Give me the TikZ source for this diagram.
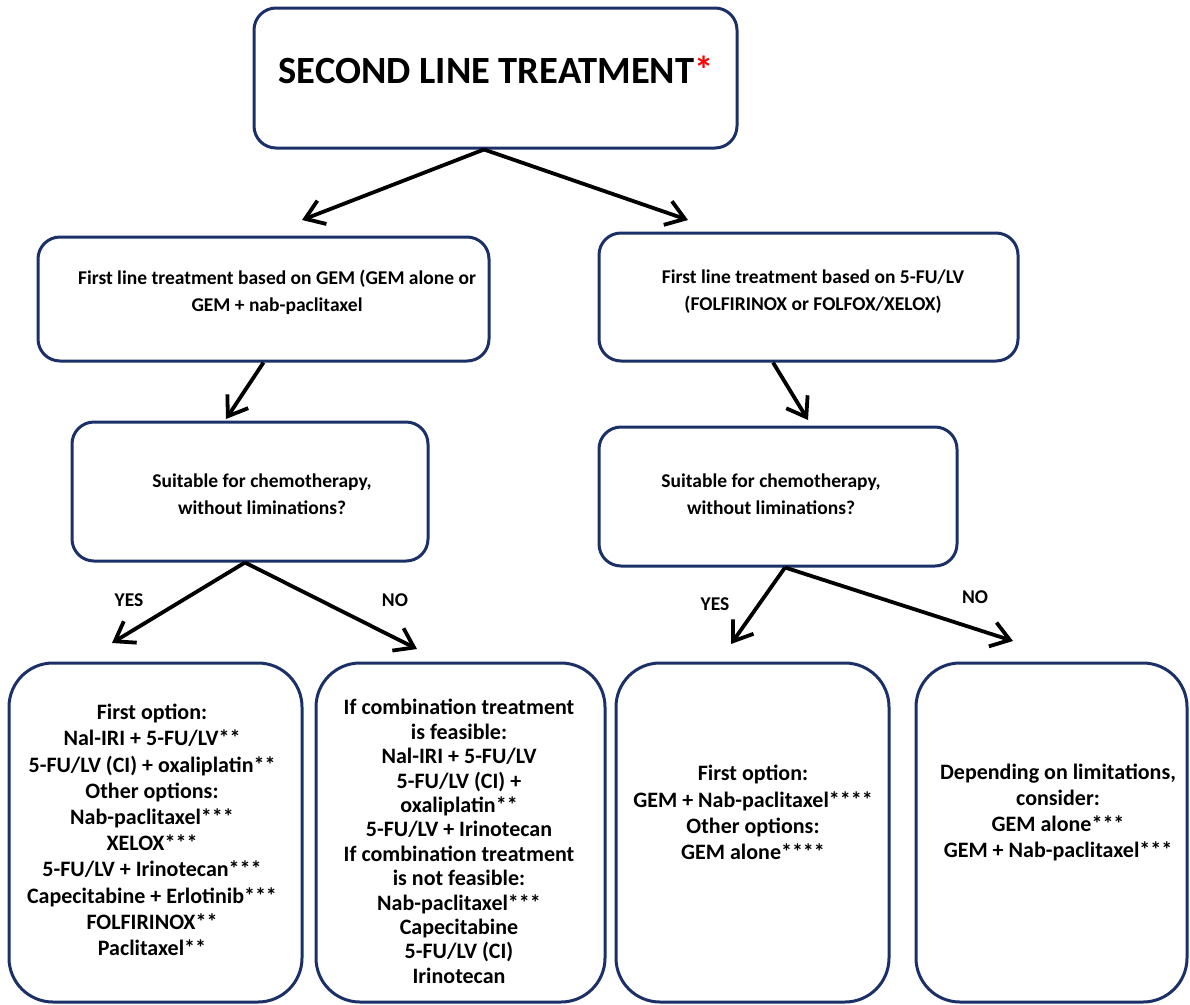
\documentclass[tikz,border=0pt]{standalone}
\usepackage{fontspec}
\setmainfont{Carlito}
\usetikzlibrary{arrows.meta}
\definecolor{boxnavy}{RGB}{28,48,104}
\definecolor{astred}{RGB}{255,0,0}
\begin{document}
\begin{tikzpicture}[x=1pt,y=-1pt,
  box/.style={draw=boxnavy, line width=3pt, rounded corners=22pt, inner sep=0pt, rectangle},
  tallbox/.style={box, rounded corners=44pt},
  arr/.style={draw=black, line width=3.8pt, -{Straight Barb[length=18pt,width=25pt]}},
  titletext/.style={font=\fontsize{38.5}{44}\selectfont\bfseries, inner sep=0pt},
  midtext/.style={font=\fontsize{19.5}{27}\selectfont\bfseries, align=center, inner sep=0pt},
  lowtext/.style={font=\fontsize{22}{26.2}\selectfont\bfseries, align=center, inner sep=0pt},
  lowtextB/.style={font=\fontsize{22}{24.4}\selectfont\bfseries, align=center, inner sep=0pt},
  yesno/.style={font=\fontsize{19.5}{21}\selectfont\bfseries, inner sep=0pt}
]
\useasboundingbox (0,0) rectangle (1190,1004);

% boxes
\node[box, minimum width=483pt, minimum height=140pt] (title) at (495.5,78) {};
\node[box, minimum width=451pt, minimum height=124pt] (gem) at (263.5,299) {};
\node[box, minimum width=419pt, minimum height=128pt] (fu) at (808.5,297) {};
\node[box, minimum width=356pt, minimum height=139pt] (suitL) at (250,491.5) {};
\node[box, minimum width=358pt, minimum height=139pt] (suitR) at (778,496.5) {};
\node[tallbox, minimum width=293pt, minimum height=339pt] (bA) at (155.5,832.5) {};
\node[tallbox, minimum width=289pt, minimum height=339pt] (bB) at (460.5,832.5) {};
\node[tallbox, minimum width=273pt, minimum height=339pt] (bC) at (752.5,832.5) {};
\node[tallbox, minimum width=271pt, minimum height=339pt] (bD) at (1051.5,832.5) {};

% texts
\node[titletext, anchor=base] (titletxt) at (496,83) {SECOND LINE TREATMENT\textcolor{astred}{*}};
\node[midtext] (gemtxt) at (277,292.5) {First line treatment based on GEM (GEM alone or\\GEM + nab-paclitaxel};
\node[midtext] (futxt) at (813,292) {First line treatment based on 5-FU/LV\\(FOLFIRINOX or FOLFOX/XELOX)};
\node[midtext] (suitLtxt) at (262,494.5) {Suitable for chemotherapy,\\without liminations?};
\node[midtext] (suitRtxt) at (771,494) {Suitable for chemotherapy,\\without liminations?};
\node[lowtext] (bAtxt) at (152,830) {First option:\\Nal-IRI + 5-FU/LV**\\5-FU/LV (CI) + oxaliplatin**\\Other options:\\Nab-paclitaxel***\\XELOX***\\5-FU/LV + Irinotecan***\\Capecitabine + Erlotinib***\\FOLFIRINOX**\\Paclitaxel**};
\node[lowtextB] (bBtxt) at (459,841.5) {If combination treatment\\is feasible:\\Nal-IRI + 5-FU/LV\\5-FU/LV (CI) +\\oxaliplatin**\\5-FU/LV + Irinotecan\\If combination treatment\\is not feasible:\\Nab-paclitaxel***\\Capecitabine\\5-FU/LV (CI)\\Irinotecan};
\node[lowtext] (bCtxt) at (753,812.5) {First option:\\GEM + Nab-paclitaxel****\\Other options:\\GEM alone****};
\node[lowtext] (bDtxt) at (1058,812.5) {Depending on limitations,\\consider:\\GEM alone***\\GEM + Nab-paclitaxel***};

% labels
\node[yesno] (yesL) at (129,600) {YES};
\node[yesno] (noL) at (395,600) {NO};
\node[yesno] (yesR) at (715,604) {YES};
\node[yesno] (noR) at (975,597) {NO};

% arrow end points
\coordinate (tA) at (302,220);
\coordinate (tB) at (688,220);
\coordinate (gA) at (226,419);
\coordinate (fA) at (808,420);
\coordinate (lY) at (112,643);
\coordinate (lN) at (417,649);
\coordinate (rY) at (731,644);
\coordinate (rN) at (1013,641);

% connectors
\draw[arr] ([xshift=-11.5pt]title.south) -- (tA);
\draw[arr] ([xshift=-11.5pt]title.south) -- (tB);
\draw[arr] (gem.south) -- (gA);
\draw[arr] ([xshift=-35.5pt]fu.south) -- (fA);
\draw[arr] ([xshift=-5pt]suitL.south) -- (lY);
\draw[arr] ([xshift=-5pt]suitL.south) -- (lN);
\draw[arr] ([xshift=7pt]suitR.south) -- (rY);
\draw[arr] ([xshift=7pt]suitR.south) -- (rN);
\end{tikzpicture}
\end{document}
